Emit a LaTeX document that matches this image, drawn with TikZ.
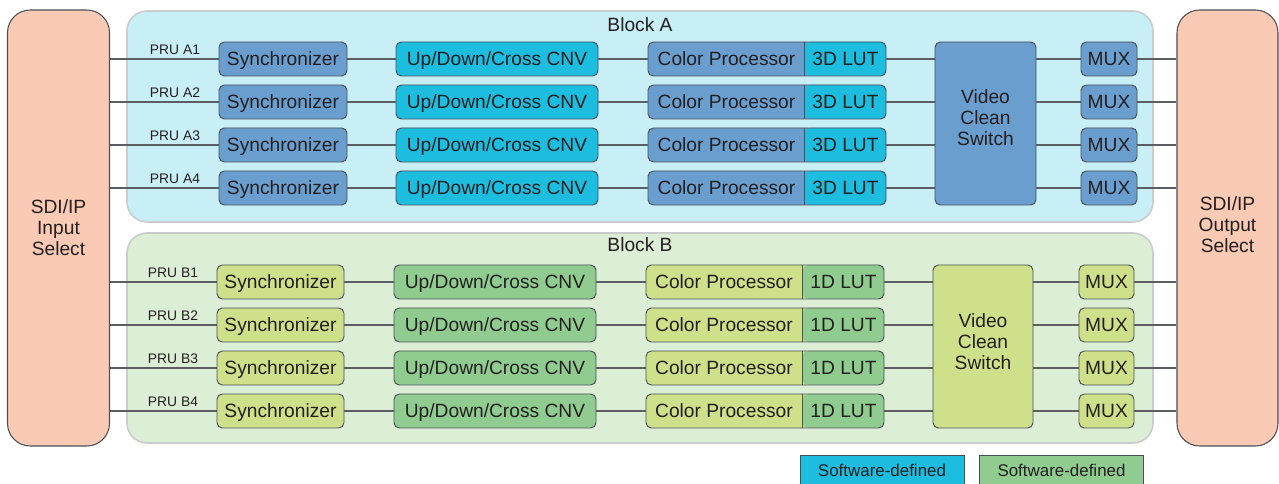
\documentclass[tikz,border=0pt]{standalone}
\usepackage{fontspec}
\setmainfont{Liberation Sans}
\usepackage{tikz}

\definecolor{blueA}{HTML}{6A9ECE}
\definecolor{cyanA}{HTML}{1DBDE0}
\definecolor{yelB}{HTML}{CFE08A}
\definecolor{grnB}{HTML}{90CC90}
\definecolor{salmon}{HTML}{FBCAB4}
\definecolor{blkAfill}{HTML}{C8EEF6}
\definecolor{blkBfill}{HTML}{DDEED6}
\definecolor{blkedge}{HTML}{C9CDCB}
\definecolor{edgec}{HTML}{4A5058}
\definecolor{wirec}{HTML}{5A5E62}
\definecolor{txtc}{HTML}{231F20}

\begin{document}
\begin{tikzpicture}[x=0.75pt,y=0.75pt,yscale=-1,xscale=1,
    every node/.style={font=\fontsize{14.4}{15.75}\selectfont, text=txtc},
    captext/.style={text height=10.3pt, text depth=0pt},
    box/.style={draw=edgec, line width=0.7pt, rounded corners=4pt, inner sep=0pt, minimum height=25.5pt},
    selbox/.style={draw=edgec, line width=0.8pt, fill=salmon, rounded corners=17pt, inner sep=0pt, minimum width=76.5pt, minimum height=327pt},
    syncA/.style={box, captext, fill=blueA, minimum width=96pt},
    syncB/.style={box, captext, fill=yelB, minimum width=95.25pt},
    cnvA/.style={box, captext, fill=cyanA, minimum width=151.5pt},
    cnvB/.style={box, captext, fill=grnB, minimum width=151.5pt},
    lutsplit/.style={path picture={
        \fill[#1] ([xshift=-61pt]path picture bounding box.north east) rectangle (path picture bounding box.south east);
        \draw[edgec, line width=0.7pt] ([xshift=-61pt]path picture bounding box.north east) -- ([xshift=-61pt]path picture bounding box.south east);}},
    cpA/.style={box, fill=blueA, minimum width=178.5pt, lutsplit=cyanA},
    cpB/.style={box, fill=yelB, minimum width=178.5pt, lutsplit=grnB},
    vcsA/.style={box, fill=blueA, minimum width=75.75pt, minimum height=122.25pt},
    vcsB/.style={box, fill=yelB, minimum width=75pt, minimum height=122.25pt},
    muxA/.style={box, captext, fill=blueA, minimum width=42pt},
    muxB/.style={box, captext, fill=yelB, minimum width=41.25pt},
    pru/.style={font=\fontsize{10.4}{12}\selectfont, inner sep=0pt, text height=7.5pt, text depth=0pt},
    legend/.style={draw=edgec, line width=0.6pt, inner sep=0pt, minimum width=123pt, minimum height=24pt, text height=9pt, text depth=0pt, font=\fontsize{12.7}{14}\selectfont},
    wire/.style={draw=wirec, line width=1.1pt}
    ]
    \useasboundingbox (0,0) rectangle (1279,484);

    %Shape: Rounded Rect (Block A)
    \draw[blkedge, line width=1.2pt, fill=blkAfill, rounded corners=15pt] (127,11) rectangle (1153,222);
    %Shape: Rounded Rect (Block B)
    \draw[blkedge, line width=1.2pt, fill=blkBfill, rounded corners=15pt] (127,233) rectangle (1153,443);

    % Text Node
    \node[captext] (titleA) at (640,25) {Block A};
    % Text Node
    \node[captext] (titleB) at (640,245) {Block B};

    %Shape: Input / Output Select
    \node[selbox] (insel) at (58.5,228) {};
    \node[selbox, minimum width=75.75pt] (outsel) at (1227.5,228) {};
    % Text Node
    \node[align=center] (inselt) at (58.5,228) {SDI/IP\\Input\\Select};
    \node[align=center] (outselt) at (1227.5,224.5) {SDI/IP\\Output\\Select};

    %Block A boxes
    \node[syncA] (syncA1) at (283,59) {Synchronizer};
    \node[syncA] (syncA2) at (283,102) {Synchronizer};
    \node[syncA] (syncA3) at (283,145) {Synchronizer};
    \node[syncA] (syncA4) at (283,188) {Synchronizer};

    \node[cnvA] (cnvA1) at (497,59) {Up/Down/Cross CNV};
    \node[cnvA] (cnvA2) at (497,102) {Up/Down/Cross CNV};
    \node[cnvA] (cnvA3) at (497,145) {Up/Down/Cross CNV};
    \node[cnvA] (cnvA4) at (497,188) {Up/Down/Cross CNV};

    \node[cpA] (cpA1) at (767,59) {};
    \node[cpA] (cpA2) at (767,102) {};
    \node[cpA] (cpA3) at (767,145) {};
    \node[cpA] (cpA4) at (767,188) {};
    % Text Node
    \node[captext] (cptA1) at (726.5,59) {Color Processor};
    \node[captext] (cptA2) at (726.5,102) {Color Processor};
    \node[captext] (cptA3) at (726.5,145) {Color Processor};
    \node[captext] (cptA4) at (726.5,188) {Color Processor};
    \node[captext] (lutA1) at (845.5,59) {3D LUT};
    \node[captext] (lutA2) at (845.5,102) {3D LUT};
    \node[captext] (lutA3) at (845.5,145) {3D LUT};
    \node[captext] (lutA4) at (845.5,188) {3D LUT};

    \node[vcsA] (vcsA) at (985.5,123.5) {};
    % Text Node
    \node[align=center] (vcstA) at (985.5,118) {Video\\Clean\\Switch};

    \node[muxA] (muxA1) at (1109,59) {MUX};
    \node[muxA] (muxA2) at (1109,102) {MUX};
    \node[muxA] (muxA3) at (1109,145) {MUX};
    \node[muxA] (muxA4) at (1109,188) {MUX};

    %Block B boxes
    \node[syncB] (syncB1) at (280.5,282) {Synchronizer};
    \node[syncB] (syncB2) at (280.5,325) {Synchronizer};
    \node[syncB] (syncB3) at (280.5,368) {Synchronizer};
    \node[syncB] (syncB4) at (280.5,411) {Synchronizer};

    \node[cnvB] (cnvB1) at (495,282) {Up/Down/Cross CNV};
    \node[cnvB] (cnvB2) at (495,325) {Up/Down/Cross CNV};
    \node[cnvB] (cnvB3) at (495,368) {Up/Down/Cross CNV};
    \node[cnvB] (cnvB4) at (495,411) {Up/Down/Cross CNV};

    \node[cpB] (cpB1) at (765,282) {};
    \node[cpB] (cpB2) at (765,325) {};
    \node[cpB] (cpB3) at (765,368) {};
    \node[cpB] (cpB4) at (765,411) {};
    % Text Node
    \node[captext] (cptB1) at (724,282) {Color Processor};
    \node[captext] (cptB2) at (724,325) {Color Processor};
    \node[captext] (cptB3) at (724,368) {Color Processor};
    \node[captext] (cptB4) at (724,411) {Color Processor};
    \node[captext] (lutB1) at (843.5,282) {1D LUT};
    \node[captext] (lutB2) at (843.5,325) {1D LUT};
    \node[captext] (lutB3) at (843.5,368) {1D LUT};
    \node[captext] (lutB4) at (843.5,411) {1D LUT};

    \node[vcsB] (vcsB) at (983,346.5) {};
    % Text Node
    \node[align=center] (vcstB) at (983,341.5) {Video\\Clean\\Switch};

    \node[muxB] (muxB1) at (1106.5,282) {MUX};
    \node[muxB] (muxB2) at (1106.5,325) {MUX};
    \node[muxB] (muxB3) at (1106.5,368) {MUX};
    \node[muxB] (muxB4) at (1106.5,411) {MUX};

    % Text Node
    \node[pru] (pruA1) at (175,49.5) {PRU A1};
    \node[pru] (pruA2) at (175,92.5) {PRU A2};
    \node[pru] (pruA3) at (175,135.5) {PRU A3};
    \node[pru] (pruA4) at (175,178.5) {PRU A4};
    \node[pru] (pruB1) at (173,272.5) {PRU B1};
    \node[pru] (pruB2) at (173,315.5) {PRU B2};
    \node[pru] (pruB3) at (173,358.5) {PRU B3};
    \node[pru] (pruB4) at (173,401.5) {PRU B4};

    %Straight Lines
    \draw[wire] (insel.east |- syncA1.west) -- (syncA1.west);
    \draw[wire] (insel.east |- syncA2.west) -- (syncA2.west);
    \draw[wire] (insel.east |- syncA3.west) -- (syncA3.west);
    \draw[wire] (insel.east |- syncA4.west) -- (syncA4.west);
    \draw[wire] (insel.east |- syncB1.west) -- (syncB1.west);
    \draw[wire] (insel.east |- syncB2.west) -- (syncB2.west);
    \draw[wire] (insel.east |- syncB3.west) -- (syncB3.west);
    \draw[wire] (insel.east |- syncB4.west) -- (syncB4.west);

    \draw[wire] (syncA1.east) -- (cnvA1.west);
    \draw[wire] (syncA2.east) -- (cnvA2.west);
    \draw[wire] (syncA3.east) -- (cnvA3.west);
    \draw[wire] (syncA4.east) -- (cnvA4.west);
    \draw[wire] (syncB1.east) -- (cnvB1.west);
    \draw[wire] (syncB2.east) -- (cnvB2.west);
    \draw[wire] (syncB3.east) -- (cnvB3.west);
    \draw[wire] (syncB4.east) -- (cnvB4.west);

    \draw[wire] (cnvA1.east) -- (cpA1.west);
    \draw[wire] (cnvA2.east) -- (cpA2.west);
    \draw[wire] (cnvA3.east) -- (cpA3.west);
    \draw[wire] (cnvA4.east) -- (cpA4.west);
    \draw[wire] (cnvB1.east) -- (cpB1.west);
    \draw[wire] (cnvB2.east) -- (cpB2.west);
    \draw[wire] (cnvB3.east) -- (cpB3.west);
    \draw[wire] (cnvB4.east) -- (cpB4.west);

    \draw[wire] (cpA1.east) -- (cpA1.east -| vcsA.west);
    \draw[wire] (cpA2.east) -- (cpA2.east -| vcsA.west);
    \draw[wire] (cpA3.east) -- (cpA3.east -| vcsA.west);
    \draw[wire] (cpA4.east) -- (cpA4.east -| vcsA.west);
    \draw[wire] (cpB1.east) -- (cpB1.east -| vcsB.west);
    \draw[wire] (cpB2.east) -- (cpB2.east -| vcsB.west);
    \draw[wire] (cpB3.east) -- (cpB3.east -| vcsB.west);
    \draw[wire] (cpB4.east) -- (cpB4.east -| vcsB.west);

    \draw[wire] (vcsA.east |- muxA1.west) -- (muxA1.west);
    \draw[wire] (vcsA.east |- muxA2.west) -- (muxA2.west);
    \draw[wire] (vcsA.east |- muxA3.west) -- (muxA3.west);
    \draw[wire] (vcsA.east |- muxA4.west) -- (muxA4.west);
    \draw[wire] (vcsB.east |- muxB1.west) -- (muxB1.west);
    \draw[wire] (vcsB.east |- muxB2.west) -- (muxB2.west);
    \draw[wire] (vcsB.east |- muxB3.west) -- (muxB3.west);
    \draw[wire] (vcsB.east |- muxB4.west) -- (muxB4.west);

    \draw[wire] (muxA1.east) -- (muxA1.east -| outsel.west);
    \draw[wire] (muxA2.east) -- (muxA2.east -| outsel.west);
    \draw[wire] (muxA3.east) -- (muxA3.east -| outsel.west);
    \draw[wire] (muxA4.east) -- (muxA4.east -| outsel.west);
    \draw[wire] (muxB1.east) -- (muxB1.east -| outsel.west);
    \draw[wire] (muxB2.east) -- (muxB2.east -| outsel.west);
    \draw[wire] (muxB3.east) -- (muxB3.east -| outsel.west);
    \draw[wire] (muxB4.east) -- (muxB4.east -| outsel.west);

    %Legend
    \node[legend, fill=cyanA] (legA) at (882,471) {Software-defined};
    \node[legend, fill=grnB] (legB) at (1061.5,471) {Software-defined};

\end{tikzpicture}
\end{document}
